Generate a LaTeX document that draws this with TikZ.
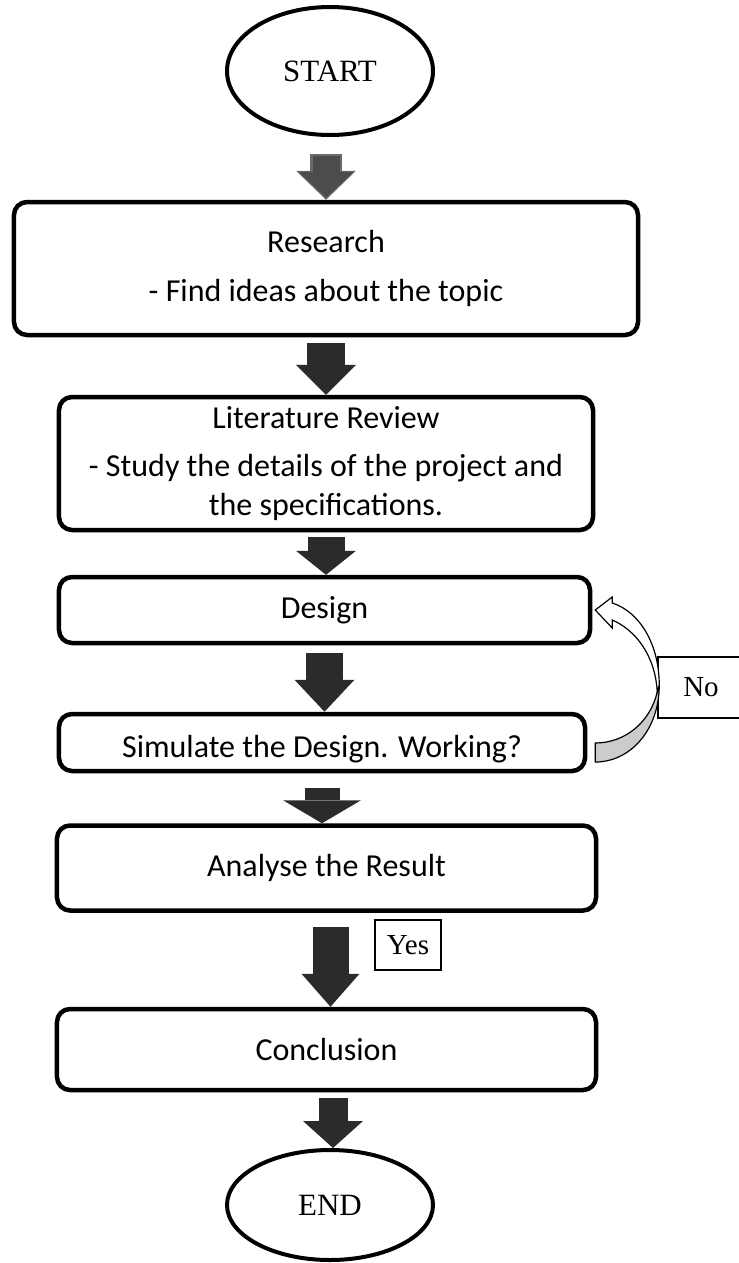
\documentclass[tikz,border=0pt]{standalone}
\usepackage{fontspec}
\setmainfont{Carlito}
\newfontfamily\serifrm{Liberation Serif}
\usetikzlibrary{arrows.meta,shapes.geometric,positioning,calc}

\tikzset{
  stepbox/.style={draw, line width=4.5bp, rounded corners=13bp, align=center,
                  inner sep=0pt, font=\fontsize{32bp}{39bp}\selectfont},
  terminal/.style={ellipse, draw, line width=4bp, inner sep=0pt,
                   font=\serifrm\fontsize{31bp}{36bp}\selectfont},
  tag/.style={draw, line width=1.2bp, inner sep=0pt,
              font=\serifrm\fontsize{29bp}{34bp}\selectfont},
  flow/.style n args={3}{line width=#1, draw=black!83,
                         -{Triangle[length=#2, width=#3, line width=0pt]}},
}

\begin{document}
\begin{tikzpicture}[x=1bp, y=-1bp]
  \useasboundingbox (0,0) rectangle (739,1263);

  % Start and end
  \node[terminal, minimum width=206bp, minimum height=128bp] (start) at (330,71) {START};
  \node[terminal, minimum width=206bp, minimum height=110bp] (end) at (330,1205) {END};

  % Steps
  \node[stepbox, minimum width=624bp, minimum height=133bp] (research) at (326,268.5)
    {Research\\[10bp]- Find ideas about the topic};
  \node[stepbox, minimum width=534bp, minimum height=133bp] (lit) at (326,463.5)
    {Literature Review\\[9bp]- Study the details of the project and\\the specifications.};
  \node[stepbox, minimum width=531bp, minimum height=66bp] (design) at (324.5,610) {Design};
  \node[stepbox, minimum width=526bp, minimum height=57bp, text height=30bp, text depth=1bp]
    (sim) at (322,742.5) {Simulate the Design. Working?};
  \node[stepbox, minimum width=539bp, minimum height=85bp] (ana) at (326.5,868)
    {Analyse the Result};
  \node[stepbox, minimum width=539bp, minimum height=81bp] (con) at (326.5,1049.5)
    {Conclusion};

  % Decision labels
  \node[tag, minimum width=66bp, minimum height=50bp] (yes) at (408,945) {Yes};
  \node[tag, minimum width=86bp, minimum height=61bp] (no) at (701,687.5) {No};

  % Block arrows down the chain
  \draw[flow={32bp}{29bp}{60bp}, draw=black!58, shorten <=17bp]
    (start.south -| research.north) -- (research.north);
  \draw[flow={27bp}{26bp}{55bp}, draw=black!70, shorten <=19bp, shorten >=2bp]
    (start.south -| research.north) -- (research.north);
  \draw[flow={38bp}{30bp}{60bp}, shorten <=6bp] (research.south) -- (research.south |- lit.north);
  \draw[flow={37bp}{24bp}{60bp}, shorten <=5bp] (lit.south) -- (lit.south |- design.north);
  \draw[flow={37bp}{32bp}{60bp}, shorten <=8bp] (design.south) -- (design.south |- sim.north);
  \draw[flow={35bp}{23bp}{78bp}, shorten <=15bp] (sim.south) -- (sim.south |- ana.north);
  \draw[flow={36bp}{33bp}{58bp}, shorten <=14bp]
    ([xshift=4bp]ana.south) -- ([xshift=4bp]ana.south |- con.north);
  \draw[flow={29bp}{27bp}{60bp}, shorten <=6bp]
    ([xshift=3bp]end.north |- con.south) -- ([xshift=3bp]end.north);

  % Loop back from the simulation to the design
  \coordinate (back) at ($(design.east)+(3,0)$);
  \coordinate (loop) at ($(sim.east)+(8,0)$);
  \begin{scope}[shift={(loop)}, line width=1.2bp]
    \filldraw[fill=black!20] (64,-57.5) .. controls (64,-12.5) and (35,19.5) .. (0,19.5)
      -- (0,0.5) .. controls (30,0.5) and (55,-20.5) .. (62,-50.5) -- cycle;
  \end{scope}
  \begin{scope}[shift={(back)}, line width=1.2bp]
    \filldraw[fill=white] (0,0) -- (17,-13) -- (17,-7)
      .. controls (45,2) and (64,35) .. (64,75) -- (62,82)
      .. controls (60,45) and (40,20) .. (17,10) -- (17,18) -- cycle;
  \end{scope}
\end{tikzpicture}
\end{document}
